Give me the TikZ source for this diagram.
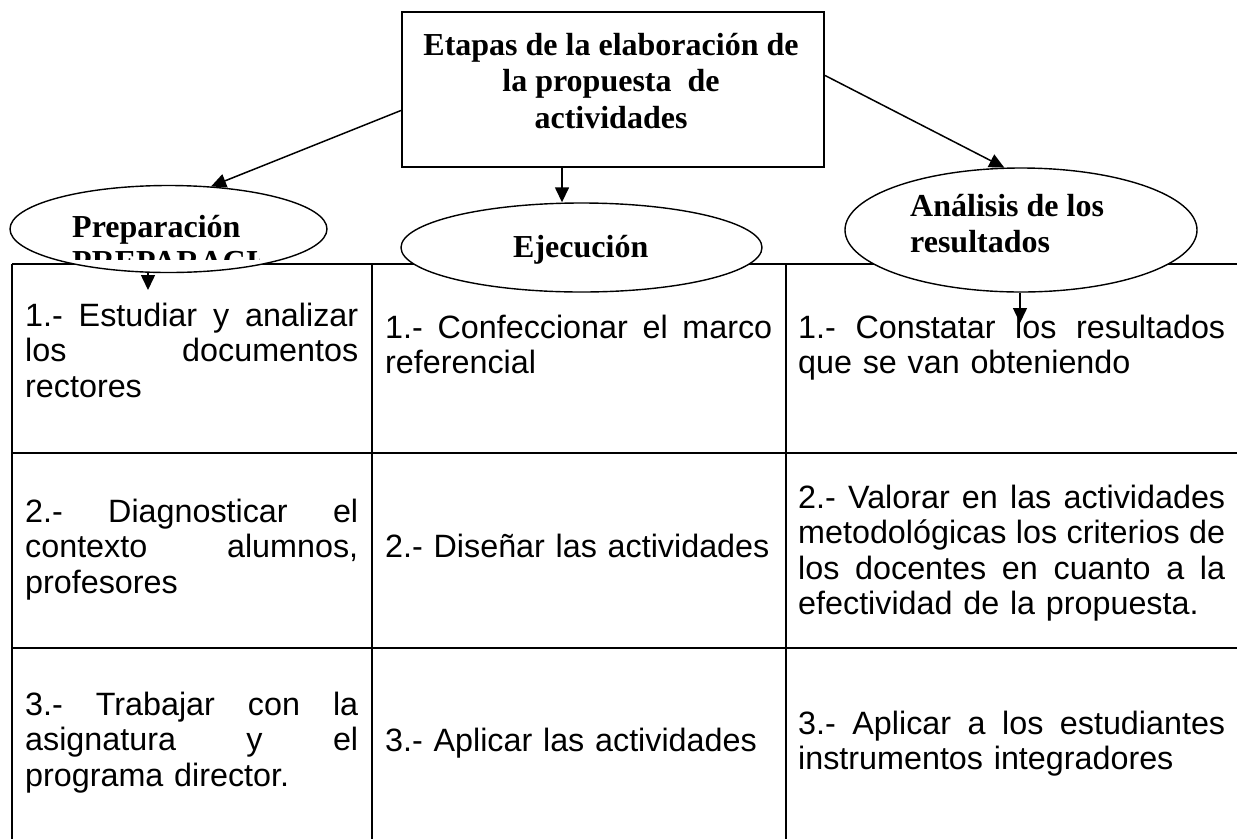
\documentclass[tikz,border=0pt]{standalone}
\usepackage{fontspec}
\setmainfont{Liberation Serif}
\newfontfamily\arialf{Liberation Sans}
\usetikzlibrary{shapes.geometric,arrows.meta}
\newcommand\firstrule{\rule{0pt}{30pt}}
\newcommand\jline[2]{\leavevmode\hbox to #1{#2}}
\begin{document}
\begin{tikzpicture}[x=1pt,y=-1pt,
  tbl/.style={line width=2pt},
  oval/.style={ellipse,draw,fill=white,line width=1.4pt,inner sep=0pt},
  lbl/.style={font=\fontsize{32}{36.5}\selectfont\bfseries,inner sep=0pt},
  cell/.style={font=\arialf\fontsize{32.3}{35.5}\selectfont,inner sep=0pt,anchor=north west,align=left},
  arr/.style={line width=1.5pt,-{Triangle[length=15pt,width=14pt]}}]
\path[use as bounding box] (0,0) rectangle (1237,839);

% table
\draw[tbl] (12,264) -- (1237,264);
\draw[tbl] (12,453) -- (1237,453);
\draw[tbl] (12,648) -- (1237,648);
\draw[tbl] (12,264) -- (12,839);
\draw[tbl] (372,264) -- (372,839);
\draw[tbl] (786,264) -- (786,839);

% cells, column 1
\node[cell,text width=333pt] (c11) at (25,296) {\jline{333pt}{\firstrule 1.-\hfill Estudiar\hfill y\hfill analizar}\\ \jline{333pt}{los\hfill documentos}\\ rectores};
\node[cell,text width=333pt] (c21) at (25,492) {\jline{333pt}{\firstrule 2.-\hfill Diagnosticar\hfill el}\\ \jline{333pt}{contexto\hfill alumnos,}\\ profesores};
\node[cell,text width=333pt] (c31) at (25,685) {\jline{333pt}{\firstrule 3.-\hfill Trabajar\hfill con\hfill la}\\ \jline{333pt}{asignatura\hfill y\hfill el}\\ programa director.};
% column 2
\node[cell,text width=387pt] (c12) at (385,308) {\jline{387pt}{\firstrule 1.-\hfill Confeccionar\hfill el\hfill marco}\\ referencial};
\node[cell,text width=387pt] (c22) at (385,527) {\firstrule 2.- Diseñar las actividades};
\node[cell,text width=387pt] (c32) at (385,721) {\firstrule 3.- Aplicar las actividades};
% column 3
\node[cell,text width=427pt] (c13) at (798,308) {\jline{427pt}{\firstrule 1.-\hfill Constatar\hfill los\hfill resultados}\\ que se van obteniendo};
\node[cell,text width=427pt] (c23) at (798,478) {\jline{427pt}{\firstrule 2.-\hfill Valorar\hfill en\hfill las\hfill actividades}\\ \jline{427pt}{metodológicas\hfill los\hfill criterios\hfill de}\\ \jline{427pt}{los\hfill docentes\hfill en\hfill cuanto\hfill a\hfill la}\\ efectividad de la propuesta.};
\node[cell,text width=427pt] (c33) at (798,704) {\jline{427pt}{\firstrule 3.-\hfill Aplicar\hfill a\hfill los\hfill estudiantes}\\ instrumentos integradores};

% title box
\node[draw,line width=2.2pt,minimum width=422pt,minimum height=155pt,inner sep=0pt] (title) at (613,89.5) {};
\node[lbl,anchor=north,align=center] (ttext) at (611,25) {\firstrule Etapas de la elaboración de\\ la propuesta\ \ de\\ actividades};

% ellipses
\node[oval,minimum width=317pt,minimum height=87pt] (prep) at (168.5,229) {};
\begin{scope}
  \clip (60,240) rectangle (259,259);
  \node[lbl,anchor=base west] (prepghost) at (72,272) {PREPARACIÓN};
\end{scope}
\node[lbl,anchor=base west] (preptext) at (72,237) {Preparación};

\node[oval,minimum width=361pt,minimum height=89pt] (ejec) at (581.5,247.5) {};
\node[lbl,anchor=base west] (ejectext) at (513,257) {Ejecución};

\node[oval,minimum width=352pt,minimum height=124pt] (ana) at (1021,230) {};
\node[lbl,anchor=north west,align=left] (anatext) at (910,186) {\firstrule Análisis de los\\ resultados};

% arrows
\draw[arr] ([yshift=-21pt]title.west) -- (prep.45);
\draw[arr] ([yshift=14pt]title.east) -- (ana.105);
\draw[arr] ([xshift=-51pt]title.south) -- ([xshift=-51pt]title.south |- ejec.north);
\coordinate (prepin) at (148,290);
\draw[arr] (prepin |- prep.south) -- (prepin);
\coordinate (anain) at (1020,323);
\draw[arr] (anain |- ana.south) -- (anain);
\end{tikzpicture}
\end{document}
